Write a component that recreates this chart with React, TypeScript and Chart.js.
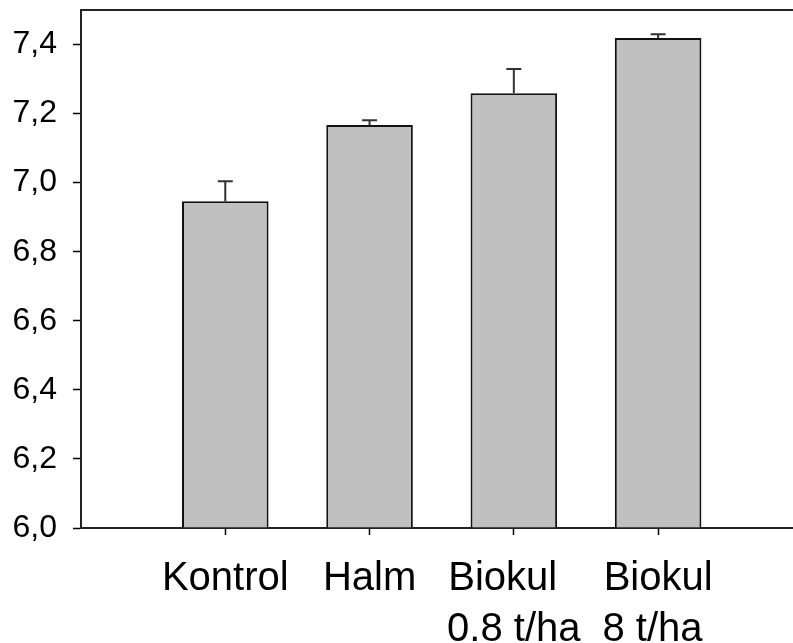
import React, { useEffect, useRef } from 'react';
import { Chart, registerables } from 'chart.js';

Chart.register(...registerables);

// ---- data ----
const categories: string[][] = [['Kontrol'], ['Halm'], ['Biokul  ', '0.8 t/ha'], ['Biokul', '8 t/ha ']];
const xPositions = [1, 2, 3, 4];
const means = [6.946, 7.167, 7.259, 7.419];
const errors = [0.058, 0.014, 0.07, 0.011];
const yTickValues = [6.0, 6.2, 6.4, 6.6, 6.8, 7.0, 7.2, 7.4];
const yMin = 6.0;
const yMax = 7.5;
const xMin = 0;
const xMax = 4.935;

const FONT = "'Liberation Sans', Arial, Helvetica, sans-serif";

const errorBarPlugin = {
  id: 'errorBars',
  afterDatasetsDraw(chart: any) {
    const { ctx } = chart;
    const x = chart.scales.x;
    const y = chart.scales.y;
    ctx.save();
    ctx.strokeStyle = '#333333';
    ctx.lineWidth = 2;
    xPositions.forEach((xv, i) => {
      const px = x.getPixelForValue(xv);
      const py0 = y.getPixelForValue(means[i]);
      const py1 = y.getPixelForValue(means[i] + errors[i]);
      ctx.beginPath();
      ctx.moveTo(px, py0);
      ctx.lineTo(px, py1);
      ctx.moveTo(px - 7.5, py1);
      ctx.lineTo(px + 7.5, py1);
      ctx.stroke();
    });
    ctx.restore();
  },
};

export default function App() {
  const ref = useRef<HTMLCanvasElement | null>(null);

  useEffect(() => {
    if (!ref.current) return;
    const chart = new Chart(ref.current, {
      type: 'bar',
      data: {
        datasets: [
          {
            data: xPositions.map((xv, i) => ({ x: xv, y: means[i] })),
            backgroundColor: '#c0c0c0',
            borderColor: '#111111',
            borderWidth: 2,
            base: yMin,
            categoryPercentage: 1,
            barPercentage: 0.6,
          } as any,
        ],
      },
      plugins: [errorBarPlugin],
      options: {
        animation: false,
        responsive: false,
        events: [],
        layout: { padding: 0 },
        plugins: { legend: { display: false }, tooltip: { enabled: false }, title: { display: false } },
        scales: {
          x: {
            type: 'linear',
            position: 'bottom',
            min: xMin,
            max: xMax,
            offset: false,
            afterBuildTicks: (scale: any) => {
              scale.ticks = xPositions.map((v) => ({ value: v }));
            },
            afterFit: (scale: any) => {
              scale.height = 115;
              scale.paddingLeft = 0;
              scale.paddingRight = 0;
            },
            grid: {
              offset: false,
              drawOnChartArea: false,
              drawTicks: true,
              tickLength: 7,
              tickColor: '#000000',
              tickWidth: 1.5,
            },
            border: { display: true, color: '#222222', width: 2 },
            ticks: {
              padding: 19,
              maxRotation: 0,
              minRotation: 0,
              autoSkip: false,
              color: '#000000',
              font: { family: FONT, size: 40, lineHeight: 1.27 },
              callback: (value: any) => {
                const i = xPositions.indexOf(Number(value));
                return i >= 0 ? categories[i] : '';
              },
            },
          },
          x2: {
            type: 'linear',
            position: 'top',
            axis: 'x',
            min: 0,
            max: 1,
            afterFit: (scale: any) => {
              scale.height = 10;
              scale.paddingLeft = 0;
              scale.paddingRight = 0;
            },
            grid: { drawOnChartArea: false, drawTicks: false },
            border: { display: true, color: '#222222', width: 2 },
            ticks: { display: false },
          } as any,
          y: {
            type: 'linear',
            min: yMin,
            max: yMax,
            afterBuildTicks: (scale: any) => {
              scale.ticks = yTickValues.map((v) => ({ value: v }));
            },
            afterFit: (scale: any) => {
              scale.width = 81;
              scale.paddingTop = 0;
              scale.paddingBottom = 0;
            },
            grid: {
              drawOnChartArea: false,
              drawTicks: true,
              tickLength: 8,
              tickColor: '#000000',
              tickWidth: 1.5,
            },
            border: { display: true, color: '#222222', width: 2 },
            ticks: {
              padding: 16,
              color: '#000000',
              font: { family: FONT, size: 32 },
              callback: (value: any) => Number(value).toFixed(1).replace('.', ','),
            },
          },
        },
      } as any,
    });
    return () => chart.destroy();
  }, []);

  return (
    <div style={{ position: 'absolute', left: 0, top: 0, width: 793, height: 643, background: '#ffffff' }}>
      <canvas ref={ref} width={793} height={643} style={{ display: 'block', width: 793, height: 643 }} />
    </div>
  );
}
